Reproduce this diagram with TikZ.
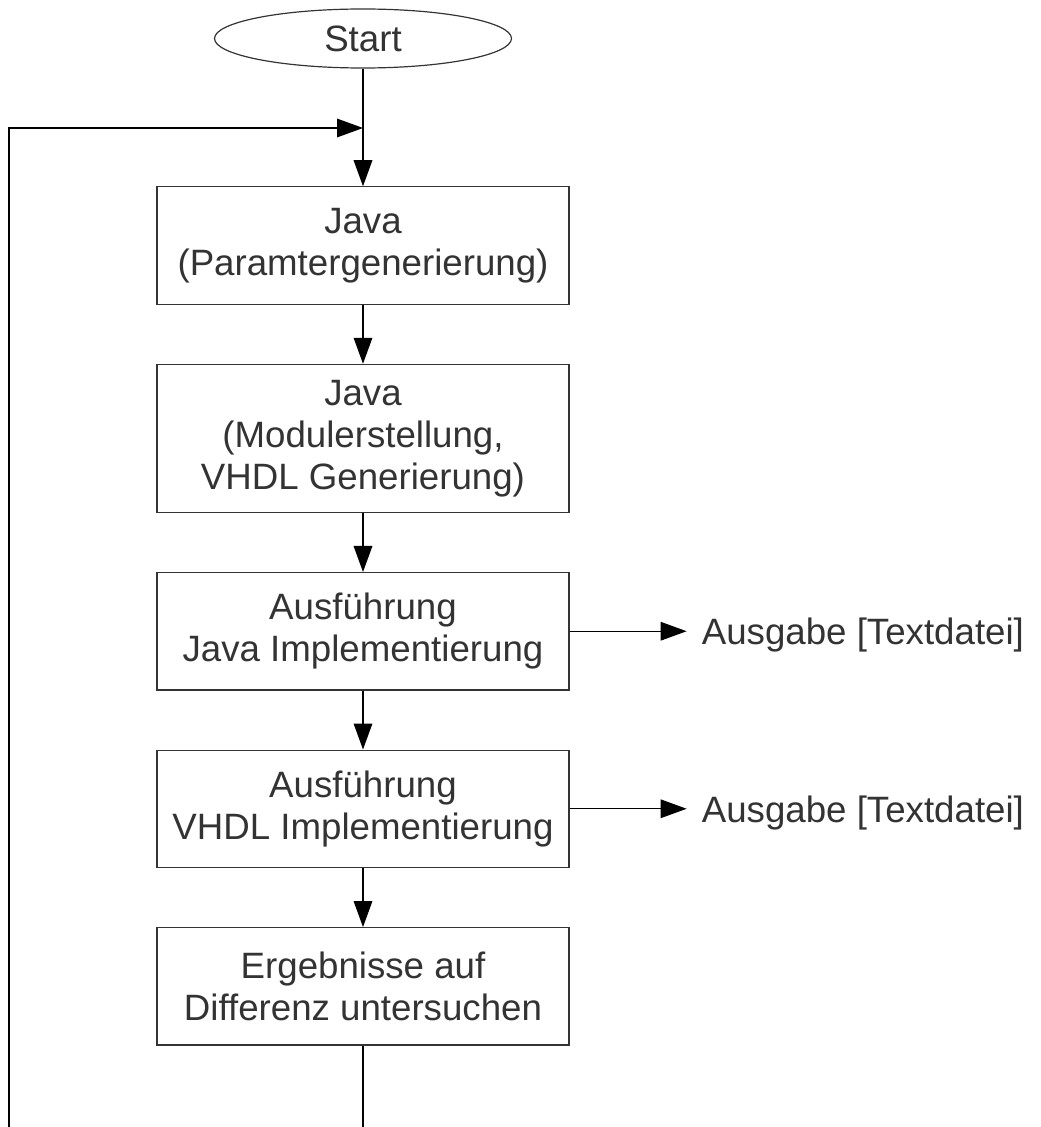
\documentclass[tikz,border=0pt]{standalone}
\usepackage{fontspec}
\setmainfont{Liberation Sans}
\usetikzlibrary{arrows.meta,positioning,shapes.geometric}
\definecolor{framegray}{RGB}{52,52,52}
\definecolor{labelgray}{RGB}{51,51,51}
\tikzset{
  chartfont/.style={font=\fontsize{27.5}{31.5}\selectfont, text=labelgray},
  % Process steps all share one width; heights differ with the text.
  stepbox/.style={draw=framegray, line width=.9pt, chartfont, align=center,
    minimum width=309pt, minimum height=88pt, inner sep=0pt},
  startoval/.style={ellipse, draw=framegray, line width=.9pt, chartfont,
    minimum width=222.75pt, minimum height=44.25pt, inner sep=0pt},
  outlabel/.style={chartfont, inner xsep=11.25pt, text depth=0pt},
  plainline/.style={black, line width=.8pt},
  flowline/.style={plainline, -{Triangle[length=19.5pt,width=14pt]}},
}

\begin{document}
\begin{tikzpicture}[x=.75pt, y=-.75pt, node distance=44.25pt]
  \useasboundingbox (0,0) rectangle (1040,1127);

  \node[startoval] (start) at (363,38.5) {Start};

  % Main column of steps, one gap apart.
  \node[stepbox] (box1) at (363,245.5)
    {Java\\(Paramtergenerierung)};
  \node[stepbox, minimum height=111pt, below=of box1] (box2)
    {Java\\(Modulerstellung,\\VHDL Generierung)};
  \node[stepbox, below=of box2] (box3)
    {Ausführung\\Java Implementierung};
  \node[stepbox, below=of box3] (box4)
    {Ausführung\\VHDL Implementierung};
  \node[stepbox, below=of box4] (box5)
    {Ergebnisse auf\\Differenz untersuchen};

  % Text files written by both implementations.
  \node[outlabel, right=87.75pt of box3] (out1) {Ausgabe [Textdatei]};
  \node[outlabel, right=87.75pt of box4] (out2) {Ausgabe [Textdatei]};

  \draw[flowline] (start) -- (box1);
  \foreach \from/\to in {box1/box2, box2/box3, box3/box4, box4/box5}
    \draw[flowline] (\from) -- (\to);
  \draw[flowline] (box3.east) -- (out1.west);
  \draw[flowline] (box4.east) -- (out2.west);

  % The loop back runs off the bottom edge and comes in again on the left.
  \coordinate (joinpt) at (363,128);
  \coordinate (cutmid) at (363,1127);
  \coordinate (cutleft) at (9,1127);
  \draw[plainline] (box5) -- (cutmid);
  \draw[flowline] (cutleft) |- (joinpt);
\end{tikzpicture}
\end{document}
